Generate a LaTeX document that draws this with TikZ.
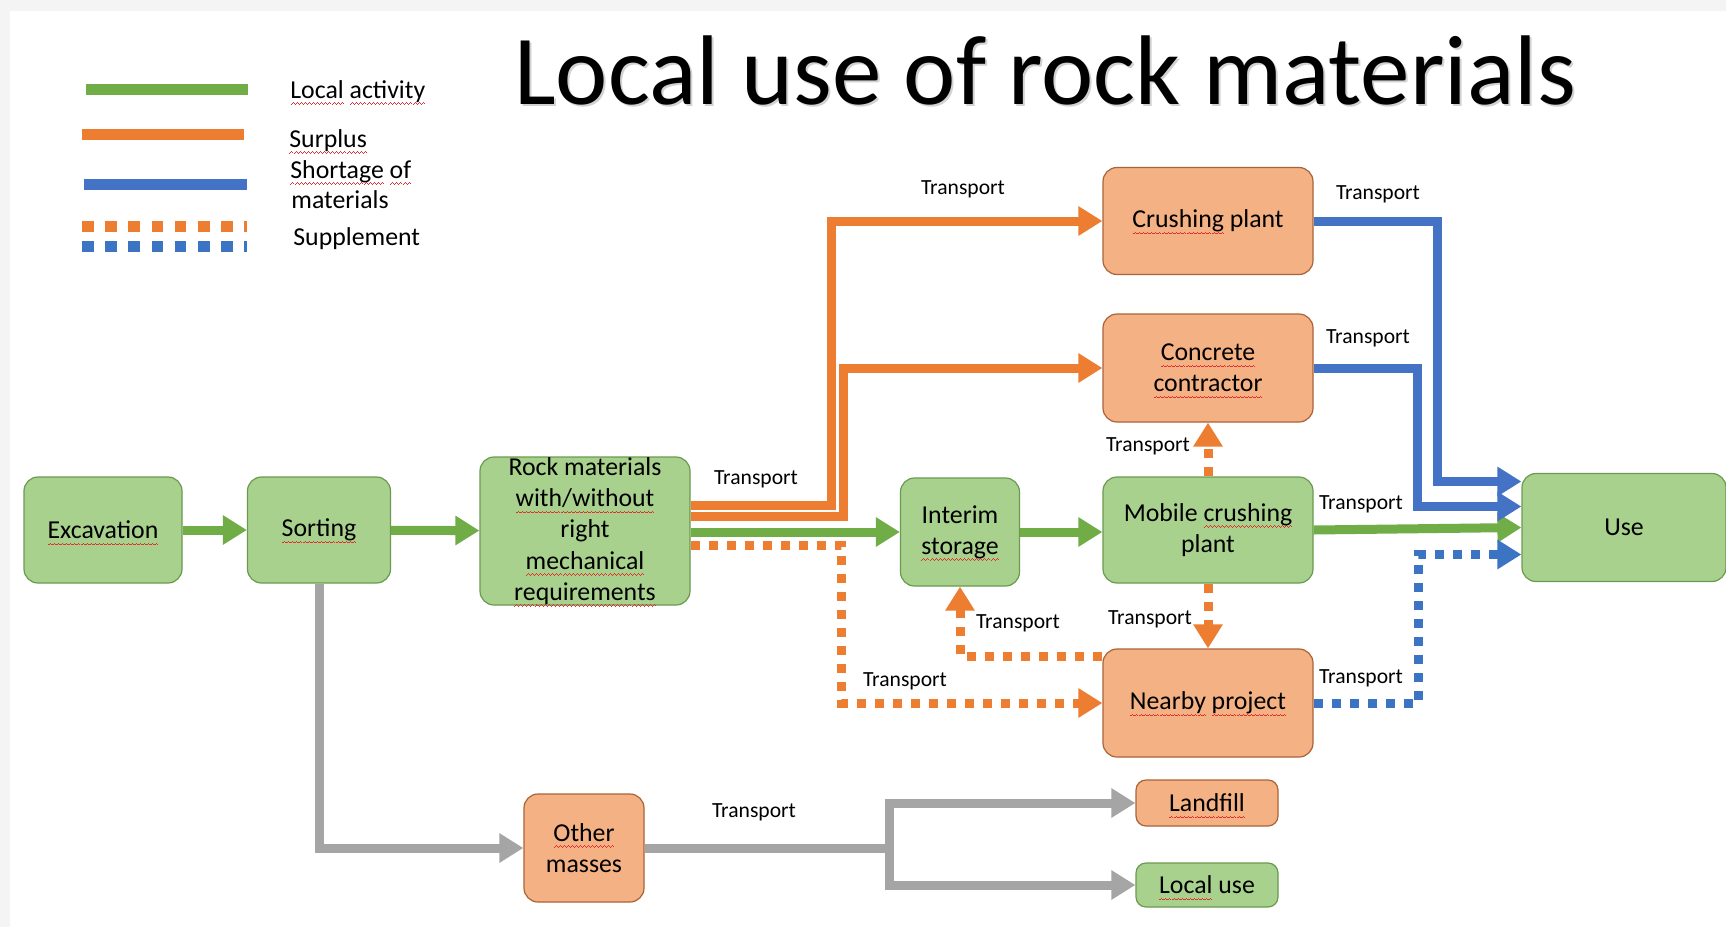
\documentclass[tikz,border=0pt]{standalone}
\usepackage{fontspec}
\setmainfont{Carlito}
\usetikzlibrary{arrows.meta,calc}
\definecolor{gfill}{HTML}{A9D18E}
\definecolor{gdraw}{HTML}{6A9A4F}
\definecolor{ofill}{HTML}{F4B183}
\definecolor{odraw}{HTML}{A9633A}
\definecolor{cgreen}{HTML}{70AD47}
\definecolor{corange}{HTML}{ED7D31}
\definecolor{cblue}{HTML}{4472C4}
\definecolor{cbluedot}{HTML}{3B74C2}
\definecolor{cgray}{HTML}{A5A5A5}
\definecolor{bggray}{HTML}{F4F4F4}
\definecolor{sqred}{HTML}{E03030}
\newsavebox\sqbox
\newcommand\wavebit{\rule[0pt]{0.5pt}{0.4pt}\rule[0.35pt]{0.5pt}{0.4pt}\rule[0.7pt]{0.5pt}{0.4pt}\rule[0.35pt]{0.5pt}{0.4pt}}
\newcommand\sq[1]{\sbox\sqbox{#1}\rlap{\raisebox{-3.2pt}[0pt][0pt]{\textcolor{sqred}{\hbox to \wd\sqbox{\xleaders\hbox{\wavebit}\hfill}}}}\usebox\sqbox}
\newcommand\nodefont{\fontsize{12.9}{15.6}\selectfont}
\newcommand\tfont{\fontsize{10.8}{13}\selectfont}
\newcommand\titlefont{\fontsize{49.5}{60}\selectfont}
\begin{document}
\begin{tikzpicture}[x=0.5pt,y=-0.5pt,
  box/.style={rounded corners=7pt, line width=0.6pt, align=center, inner sep=2pt, font=\nodefont},
  gbox/.style={box, fill=gfill, draw=gdraw},
  obox/.style={box, fill=ofill, draw=odraw},
  flow/.style={line width=4.5pt, -{Triangle[length=12pt,width=14pt]}},
  gflow/.style={flow, draw=cgreen},
  oflow/.style={flow, draw=corange},
  bflow/.style={flow, draw=cblue},
  bdflow/.style={flow, draw=cbluedot},
  grflow/.style={flow, draw=cgray},
  grline/.style={line width=4.5pt, draw=cgray},
  dots/.style={dash pattern=on 4.5pt off 4.5pt},
  legline/.style={line width=5.5pt},
  legdots/.style={legline, dash pattern=on 5.8pt off 5.8pt},
  tlabel/.style={font=\tfont, inner sep=0pt},
  legtext/.style={font=\nodefont, inner sep=0pt, anchor=base west}
]
\useasboundingbox (0,0) rectangle (1726,927);
\fill[bggray] (0,0) rectangle (1726,927);
\fill[white] (10,11) rectangle (1726,927);

% title
\node[anchor=base west, font=\titlefont, text=gray!70, opacity=.5, inner sep=0pt] (titleshadow) at (516,106) {Local use of rock materials};
\node[anchor=base west, font=\titlefont, inner sep=0pt] (title) at (514,104) {Local use of rock materials};

% legend
\draw[legline, cgreen] (86,89) -- (248,89);
\draw[legline, corange] (82,134) -- (244,134);
\draw[legline, cblue] (84,184) -- (247,184);
\draw[legdots, corange] (82,226) -- (247,226);
\draw[legdots, cbluedot] (82,246) -- (247,246);
\node[legtext] (leg1) at (290,98) {\sq{Local} \sq{activity}};
\node[legtext] (leg2) at (289,147) {\sq{Surplus}};
\node[legtext] (leg3) at (290,178) {\sq{Shortage} \sq{of}};
\node[legtext] (leg4) at (291,208) {materials};
\node[legtext] (leg5) at (293,245) {Supplement};

% nodes
\node[gbox, minimum width=79pt, minimum height=53pt] (exc) at (103,530) {\sq{Excavation}};
\node[gbox, minimum width=71.5pt, minimum height=53pt] (sort) at (319,530) {\sq{Sorting}};
\node[gbox, minimum width=105pt, minimum height=74pt, inner sep=0pt] (rock) at (585,531) {Rock materials\\ \sq{with/without}\\ right\\ \sq{mechanical}\\ \sq{requirements}};
\node[gbox, minimum width=59.5pt, minimum height=54pt] (interim) at (960,532) {Interim\\ \sq{storage}};
\node[gbox, minimum width=105pt, minimum height=53pt] (mobile) at (1208,530) {Mobile \sq{crushing}\\ plant};
\node[obox, minimum width=105pt, minimum height=53.5pt] (crush) at (1208,221) {\sq{Crushing} plant};
\node[obox, minimum width=105pt, minimum height=54pt] (concrete) at (1208,368) {\sq{Concrete}\\ \sq{contractor}};
\node[obox, minimum width=105pt, minimum height=54pt] (nearby) at (1208,703) {\sq{Nearby} \sq{project}};
\node[gbox, minimum width=102pt, minimum height=54pt] (use) at (1624,527.5) {Use};
\node[obox, minimum width=60pt, minimum height=54pt] (other) at (584,848) {\sq{Other}\\ masses};
\node[obox, rounded corners=5pt, minimum width=71pt, minimum height=23pt] (landfill) at (1207,803) {\sq{Landfill}};
\node[gbox, rounded corners=5pt, minimum width=71pt, minimum height=22pt] (localuse) at (1207,885) {\sq{Local} use};

% green flows
\draw[gflow] (exc) -- (sort);
\draw[gflow] (sort) -- (rock);
\draw[gflow] (rock.east |- interim.west) -- (interim.west);
\draw[gflow] (interim.east) -- (interim.east -| mobile.west);
\draw[gflow] (mobile.east) -- (use.west);

% orange surplus flows
\draw[oflow] ($(rock.east)+(0,-26)$) -- ++(141,0) |- (crush.west);
\draw[oflow] ($(rock.east)+(0,-15)$) -- ++(153,0) |- (concrete.west);
\draw[oflow, dots] ($(rock.east)+(0,14)$) -- ++(151,0) |- (nearby.west);
\draw[oflow, dots] ($(nearby.west)+(0,-47)$) -| (interim.south);
\draw[oflow, dots] (mobile.north) -- (concrete.south);
\draw[oflow, dots] (mobile.south) -- (nearby.north);

% blue flows
\draw[bflow] (crush.east) -- ++(124,0) |- ($(use.west)+(0,-46)$);
\draw[bflow] (concrete.east) -- ++(104,0) |- ($(use.west)+(0,-21)$);
\draw[bdflow, dots] (nearby.east) -- ++(105,0) |- ($(use.west)+(0,27)$);

% gray flows
\draw[grflow] (sort.south) |- (other.west);
\coordinate (br) at ($(other.east)+(245,0)$);
\draw[grline] (other.east) -- (br);
\draw[grflow] (br) |- (landfill.west);
\draw[grflow] (br) |- (localuse.west);

% transport labels
\node[tlabel] (t1) at (963,189) {Transport};
\node[tlabel] (t2) at (1378,194) {Transport};
\node[tlabel] (t3) at (1368,338) {Transport};
\node[tlabel] (t4) at (1148,446) {Transport};
\node[tlabel] (t5) at (756,479) {Transport};
\node[tlabel] (t6) at (1361,504) {Transport};
\node[tlabel] (t7) at (1018,623) {Transport};
\node[tlabel] (t8) at (1150,619) {Transport};
\node[tlabel] (t9) at (905,681) {Transport};
\node[tlabel] (t10) at (1361,678) {Transport};
\node[tlabel] (t11) at (754,812) {Transport};
\end{tikzpicture}
\end{document}
